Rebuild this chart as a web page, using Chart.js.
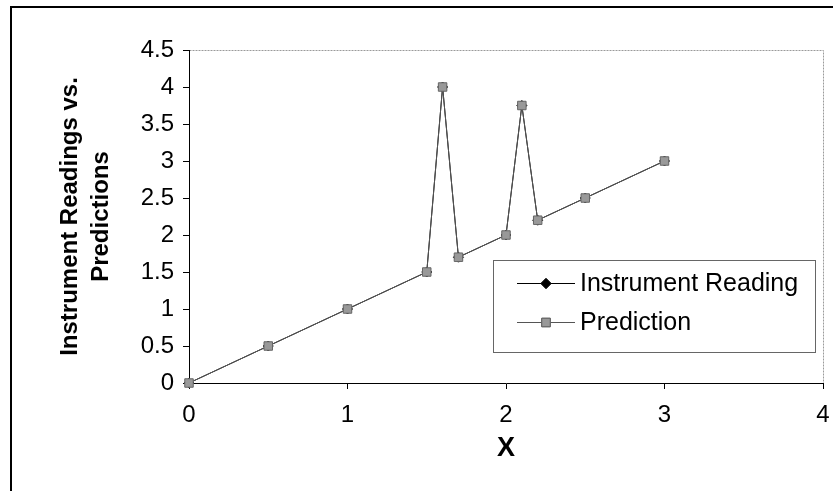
<!DOCTYPE html>
<html>
<head>
<meta charset="utf-8">
<script src="https://cdn.jsdelivr.net/npm/chart.js@4"></script>
<style>
  body { margin: 0; background: #fff; }
  #frame { position: absolute; left: 10px; top: 6px; width: 840px; height: 500px;
           border-left: 2px solid #000; border-top: 2px solid #000; }
  #chart { position: absolute; left: 0; top: 0; }
</style>
</head>
<body>
<div id="frame"></div>
<canvas id="chart" width="833" height="491"></canvas>
<script>
// dados
const xValues = [0, 0.5, 1, 1.5, 1.6, 1.7, 2, 2.1, 2.2, 2.5, 3];
const instrumentReading = [0, 0.5, 1, 1.5, 4, 1.7, 2, 3.75, 2.2, 2.5, 3];
const prediction = [0, 0.5, 1, 1.5, 4, 1.7, 2, 3.75, 2.2, 2.5, 3];
const xTicks = [0, 1, 2, 3, 4];
const yTicks = [0, 0.5, 1, 1.5, 2, 2.5, 3, 3.5, 4, 4.5];

const fonte = '"Liberation Sans", Arial, sans-serif';

function pontos(ys) {
    return xValues.map((x, i) => ({ x: x, y: ys[i] }));
}

// moldura cinza do plot (topo e direita)
const molduraPlot = {
    id: 'molduraPlot',
    beforeDraw(chart) {
        const { ctx, chartArea: a } = chart;
        ctx.save();
        ctx.strokeStyle = '#9a9a9a';
        ctx.lineWidth = 1;
        ctx.setLineDash([2, 1]);
        ctx.strokeRect(a.left + 0.5, a.top + 0.5, a.right - a.left, a.bottom - a.top);
        ctx.restore();
    }
};

// legenda dentro da área do gráfico
const legendaInterna = {
    id: 'legendaInterna',
    afterDraw(chart) {
        const ctx = chart.ctx;
        const box = { x: 493, y: 260, w: 322, h: 92 };
        ctx.save();
        ctx.fillStyle = '#fff';
        ctx.fillRect(box.x, box.y, box.w, box.h);
        ctx.strokeStyle = '#666';
        ctx.lineWidth = 1;
        ctx.strokeRect(box.x + 0.5, box.y + 0.5, box.w, box.h);

        const rows = [283, 322];
        chart.data.datasets.slice().reverse().forEach((ds, i) => {
            const y = rows[i];
            ctx.strokeStyle = ds.borderColor;
            ctx.lineWidth = 1;
            ctx.beginPath();
            ctx.moveTo(517, y + 0.5);
            ctx.lineTo(575, y + 0.5);
            ctx.stroke();
            Chart.helpers.drawPoint(ctx, {
                pointStyle: ds.pointStyle, radius: ds.pointRadius, rotation: 0, borderWidth: 1
            }, 546, y + 0.5);
            ctx.fillStyle = ds.pointBackgroundColor;
            ctx.strokeStyle = ds.pointBorderColor;
            ctx.fill();
            ctx.stroke();
            ctx.fillStyle = '#000';
            ctx.font = '25px ' + fonte;
            ctx.textBaseline = 'middle';
            ctx.fillText(ds.label, 580, y + 1);
        });
        ctx.restore();
    }
};

new Chart(document.getElementById('chart'), {
    type: 'scatter',
    data: {
        datasets: [
            {
                label: 'Prediction',
                data: pontos(prediction),
                showLine: true,
                clip: false,
                borderColor: '#555',
                borderWidth: 1,
                pointStyle: 'rect',
                pointRadius: 6,
                pointBackgroundColor: '#999',
                pointBorderColor: '#666',
                pointBorderWidth: 1
            },
            {
                label: 'Instrument Reading',
                data: pontos(instrumentReading),
                showLine: true,
                clip: false,
                borderColor: '#000',
                borderWidth: 1,
                pointStyle: 'rectRot',
                pointRadius: 5,
                pointBackgroundColor: '#000',
                pointBorderColor: '#000',
                pointBorderWidth: 1
            }
        ]
    },
    options: {
        responsive: false,
        animation: false,
        layout: { padding: { left: 0, top: 50, right: 0, bottom: 0 } },
        plugins: { legend: { display: false }, tooltip: { enabled: false } },
        scales: {
            x: {
                type: 'linear',
                min: 0, max: 4,
                afterFit: s => { s.height = 108; s.paddingRight = 10; },
                afterBuildTicks: s => { s.ticks = xTicks.map(v => ({ value: v })); },
                ticks: { color: '#000', font: { family: fonte, size: 24 }, padding: 12, maxRotation: 0,
                         callback: v => String(v) },
                grid: { drawOnChartArea: false, drawTicks: true, tickLength: 6, color: '#000' },
                border: { color: '#000', width: 1 },
                title: { display: true, text: 'X', color: '#000',
                         font: { family: fonte, size: 27, weight: 'bold' },
                         padding: { top: 0, bottom: 26 } }
            },
            y: {
                min: 0, max: 4.5,
                afterFit: s => { s.width = 189; },
                afterBuildTicks: s => { s.ticks = yTicks.map(v => ({ value: v })); },
                ticks: { color: '#000', font: { family: fonte, size: 24 }, padding: 9,
                         callback: v => String(v) },
                grid: { drawOnChartArea: false, drawTicks: true, tickLength: 6, color: '#000' },
                border: { color: '#000', width: 1 },
                title: { display: true, text: ['Instrument Readings vs.', 'Predictions'], color: '#000',
                         font: { family: fonte, size: 24, weight: 'bold', lineHeight: 1.3 },
                         padding: { top: 55, bottom: 0 } }
            }
        }
    },
    plugins: [molduraPlot, legendaInterna]
});
</script>
</body>
</html>
